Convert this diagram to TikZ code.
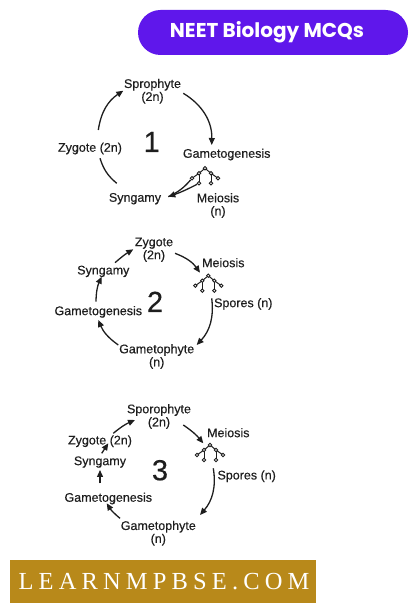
\documentclass[tikz,border=0pt]{standalone}
\usepackage{fontspec}
\setmainfont{Liberation Sans}[FakeBold=0.4]
\newfontfamily\badgefont{Poppins}
\newfontfamily\bannerfont[LetterSpace=21]{Liberation Serif}
\usetikzlibrary{arrows.meta}
\definecolor{badge}{HTML}{5F17EB}
\definecolor{gold}{HTML}{B8891A}
\definecolor{ink}{HTML}{1E1E1E}
\begin{document}
\begin{tikzpicture}[x=1pt,y=1pt,
  lbl/.style={font=\fontsize{12.5}{13}\selectfont, text=ink, inner sep=0pt, text height=8.9pt, text depth=0pt},
  lbl2/.style={font=\fontsize{12.5}{13}\selectfont, text=ink, inner sep=0pt, align=center, anchor=north},
  num/.style={font=\fontsize{29}{29}\selectfont, text=ink, inner sep=0pt, text height=20.5pt, text depth=0pt},
  arr/.style={draw=ink, line width=1.3pt, -{Triangle[length=7pt,width=6pt]}},
  lin/.style={draw=ink, line width=1.3pt},
  dot/.style={circle, draw=ink, fill=white, line width=0.9pt, inner sep=0pt, minimum size=3.4pt},
  tetrad/.pic={
    \draw[ink, line width=1pt] (-13,-10) -- (-6,-5) -- (0,0) -- (6,-5) -- (13,-10);
    \draw[ink, line width=1pt] (-6,-5) -- (-6,-15) (6,-5) -- (6,-15);
    \node[dot] (-ap) at (0,0) {};
    \node[dot] (-ml) at (-6,-5) {};
    \node[dot] (-mr) at (6,-5) {};
    \node[dot] (-ol) at (-13,-10) {};
    \node[dot] (-or) at (13,-10) {};
    \node[dot] (-il) at (-6,-15) {};
    \node[dot] (-ir) at (6,-15) {};
  }
]
\useasboundingbox (0,0) rectangle (415,613);

% header badge
\node[fill=badge, rounded corners=22.5pt, minimum width=270pt, minimum height=45pt, inner sep=0pt] (badge) at (273,580.5) {};
\node[font=\badgefont\bfseries\fontsize{20}{20}\selectfont, text=white, inner sep=0pt] (badgetxt) at (267,580.5) {NEET Biology MCQs};

% footer banner
\node[fill=gold, minimum width=306pt, minimum height=43pt, inner sep=0pt] (banner) at (163,31.5) {};
\node[font=\bannerfont\fontsize{24.5}{24.5}\selectfont, text=white, inner sep=0pt] (bannertxt) at (164,31.5) {LEARNMPBSE.COM};

% ---------- diagram 1 ----------
\node[lbl2] (spro1) at (152.5,534.3) {Sprophyte\\(2n)};
\node[num] (n1) at (151.7,471.3) {1};
\node[lbl] (zyg1) at (90,465.7) {Zygote (2n)};
\node[lbl] (gam1) at (226.7,459.7) {Gametogenesis};
\node[lbl] (syn1) at (135,415.7) {Syngamy};
\node[lbl2] (mei1) at (218,420) {Meiosis\\(n)};
\pic (t1) at (205,444.7) {tetrad};
\coordinate (d1a) at (98.3,483);
\coordinate (d1b) at (123.3,522.3);
\coordinate (d1c) at (183.3,519.7);
\coordinate (d1d) at (211.7,468);
\coordinate (d1e) at (116.7,429.7);
\coordinate (d1f) at (100,454.7);
\coordinate (d1g) at (168.3,416.3);
\draw[arr] (d1a) to[bend left=24] (d1b);
\draw[arr] (d1c) to[bend left=30] (d1d);
\draw[lin] (d1e) to[bend left=16] (d1f);
\draw[lin] (t1-ol) to[bend left=12] (d1g);
\draw[arr] (t1-il) to[bend left=4] (d1g);

% ---------- diagram 2 ----------
\node[lbl2] (zyg2) at (154,375.6) {Zygote\\(2n)};
\node[lbl] (mei2) at (223.3,350.3) {Meiosis};
\pic (t2) at (208.3,337.3) {tetrad};
\node[lbl] (spo2) at (243.3,310.3) {Spores (n)};
\node[num] (n2) at (155,311.3) {2};
\node[lbl] (syn2) at (103.3,343) {Syngamy};
\node[lbl] (gtg2) at (98.3,302.3) {Gametogenesis};
\node[lbl2] (gph2) at (156.7,269) {Gametophyte\\(n)};
\coordinate (d2a) at (175,359.7);
\coordinate (d2b) at (200,340.3);
\coordinate (d2c) at (115,350.3);
\coordinate (d2d) at (133.3,363.7);
\coordinate (d2e) at (96,311.3);
\coordinate (d2f) at (101.7,336.3);
\coordinate (d2g) at (118.3,268);
\coordinate (d2h) at (98.3,293);
\coordinate (d2i) at (211.7,314.7);
\coordinate (d2j) at (196.7,268);
\draw[arr] (d2a) to[bend left=17] (d2b);
\draw[arr] (d2c) to[bend left=5] (d2d);
\draw[arr] (d2e) to[bend left=12] (d2f);
\draw[arr] (d2g) to[bend left=16] (d2h);
\draw[arr] (d2i) to[bend left=25] (d2j);

% ---------- diagram 3 ----------
\node[lbl2] (spor3) at (159,209) {Sporophyte\\(2n)};
\node[lbl] (mei3) at (228.3,180.3) {Meiosis};
\pic (t3) at (210,168) {tetrad};
\node[lbl] (spo3) at (246.7,138) {Spores (n)};
\node[num] (n3) at (160,143) {3};
\node[lbl] (zyg3) at (100,173) {Zygote (2n)};
\node[lbl] (syn3) at (100,152.3) {Syngamy};
\node[lbl] (gtg3) at (108.3,115.7) {Gametogenesis};
\node[lbl2] (gph3) at (158.3,92.3) {Gametophyte\\(n)};
\coordinate (d3a) at (113.3,179.7);
\coordinate (d3b) at (135,193);
\coordinate (d3c) at (101.7,159.7);
\coordinate (d3d) at (108.3,169.7);
\coordinate (d3e) at (100,129.7);
\coordinate (d3f) at (100,143);
\coordinate (d3g) at (120,94.7);
\coordinate (d3h) at (106.7,109.7);
\coordinate (d3i) at (183.3,188);
\coordinate (d3j) at (203.3,169.7);
\coordinate (d3k) at (213.3,144.7);
\coordinate (d3l) at (200,98);
\draw[arr] (d3a) to[bend left=8] (d3b);
\draw[arr] (d3c) -- (d3d);
\draw[arr] (d3e) -- (d3f);
\draw[arr] (d3g) to[bend left=9] (d3h);
\draw[arr] (d3i) to[bend left=8] (d3j);
\draw[arr] (d3k) to[bend left=25] (d3l);
\end{tikzpicture}
\end{document}
